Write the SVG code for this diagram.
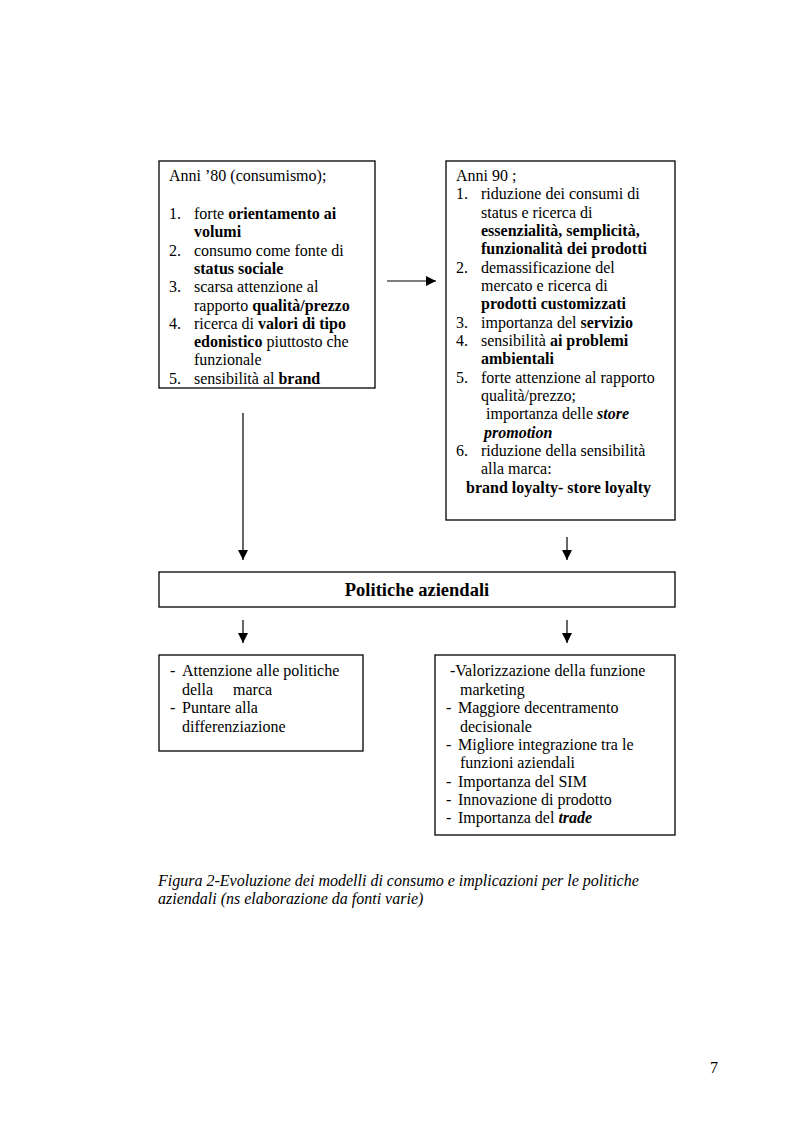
<svg xmlns="http://www.w3.org/2000/svg" width="793" height="1123" viewBox="0 0 793 1123">
<defs>
<style>
text{font-family:"Liberation Serif","Times New Roman",serif;font-size:16px;fill:#000}
.b{font-weight:bold}
.bi{font-weight:bold;font-style:italic}
.it{font-style:italic}
.box{fill:#fff;stroke:#000;stroke-width:1.3}
.ln{stroke:#000;stroke-width:1.2;fill:none}
</style>
<marker id="ah" viewBox="0 0 10 10" refX="10" refY="5" markerWidth="10" markerHeight="10" markerUnits="userSpaceOnUse" orient="auto">
<path d="M0,0 L10,5 L0,10 Z" fill="#000"/>
</marker>
</defs>
<rect width="793" height="1123" fill="#fff"/>

<g id="connectors">
<line class="ln" x1="387" y1="281" x2="436" y2="281" marker-end="url(#ah)"/>
<line class="ln" x1="243" y1="413" x2="243" y2="560" marker-end="url(#ah)"/>
<line class="ln" x1="567" y1="537" x2="567" y2="560" marker-end="url(#ah)"/>
<line class="ln" x1="243" y1="620" x2="243" y2="643" marker-end="url(#ah)"/>
<line class="ln" x1="567" y1="620" x2="567" y2="643" marker-end="url(#ah)"/>
</g>

<g id="anni80">
<rect class="box" x="159" y="161" width="216" height="227"/>
<text x="169" y="181">Anni ’80 (consumismo);</text>
<text x="169" y="219">1.</text><text x="194" y="219">forte <tspan class="b">orientamento ai</tspan></text>
<text x="194" y="237" class="b">volumi</text>
<text x="169" y="256">2.</text><text x="194" y="256">consumo come fonte di</text>
<text x="194" y="274" class="b">status sociale</text>
<text x="169" y="292">3.</text><text x="194" y="292">scarsa attenzione al</text>
<text x="194" y="311">rapporto <tspan class="b">qualità/prezzo</tspan></text>
<text x="169" y="329">4.</text><text x="194" y="329">ricerca di <tspan class="b">valori di tipo</tspan></text>
<text x="194" y="347"><tspan class="b">edonistico</tspan> piuttosto che</text>
<text x="194" y="365">funzionale</text>
<text x="169" y="384">5.</text><text x="194" y="384">sensibilità al <tspan class="b">brand</tspan></text>
</g>

<g id="anni90">
<rect class="box" x="446" y="161" width="229" height="359"/>
<text x="456" y="181">Anni 90 ;</text>
<text x="456" y="199">1.</text><text x="481" y="199">riduzione dei consumi di</text>
<text x="481" y="218">status e ricerca di</text>
<text x="481" y="236" class="b">essenzialità, semplicità,</text>
<text x="481" y="254" class="b">funzionalità dei prodotti</text>
<text x="456" y="273">2.</text><text x="481" y="273">demassificazione del</text>
<text x="481" y="291">mercato e ricerca di</text>
<text x="481" y="309" class="b">prodotti customizzati</text>
<text x="456" y="328">3.</text><text x="481" y="328">importanza del <tspan class="b">servizio</tspan></text>
<text x="456" y="346">4.</text><text x="481" y="346">sensibilità <tspan class="b">ai problemi</tspan></text>
<text x="481" y="364" class="b">ambientali</text>
<text x="456" y="383">5.</text><text x="481" y="383">forte attenzione al rapporto</text>
<text x="481" y="401">qualità/prezzo;</text>
<text x="486" y="419">importanza delle <tspan class="bi">store</tspan></text>
<text x="484" y="438" class="bi">promotion</text>
<text x="456" y="456">6.</text><text x="481" y="456">riduzione della sensibilità</text>
<text x="481" y="474">alla marca:</text>
<text x="466" y="493" class="b">brand loyalty- store loyalty</text>
</g>

<g id="politiche">
<rect class="box" x="159" y="572" width="516" height="35"/>
<text x="417" y="596" class="b" text-anchor="middle" style="font-size:18.5px">Politiche aziendali</text>
</g>

<g id="politiche80">
<rect class="box" x="159" y="655" width="204" height="96"/>
<text x="170" y="676">-</text><text x="182" y="676">Attenzione alle politiche</text>
<text x="182" y="695">della</text><text x="233" y="695">marca</text>
<text x="170" y="713">-</text><text x="182" y="713">Puntare alla</text>
<text x="182" y="732">differenziazione</text>
</g>

<g id="politiche90">
<rect class="box" x="435" y="655" width="240" height="180"/>
<text x="450" y="676">-Valorizzazione della funzione</text>
<text x="460" y="695">marketing</text>
<text x="446" y="713">-</text><text x="458" y="713">Maggiore decentramento</text>
<text x="460" y="732">decisionale</text>
<text x="446" y="750">-</text><text x="458" y="750">Migliore integrazione tra le</text>
<text x="460" y="768">funzioni aziendali</text>
<text x="446" y="787">-</text><text x="458" y="787">Importanza del SIM</text>
<text x="446" y="805">-</text><text x="458" y="805">Innovazione di prodotto</text>
<text x="446" y="823">-</text><text x="458" y="823">Importanza del <tspan class="bi">trade</tspan></text>
</g>

<g id="caption">
<text x="158" y="886" class="it">Figura 2-Evoluzione dei modelli di consumo e implicazioni per le politiche</text>
<text x="158" y="904" class="it">aziendali (ns elaborazione da fonti varie)</text>
</g>
<text x="710" y="1073">7</text>
</svg>
